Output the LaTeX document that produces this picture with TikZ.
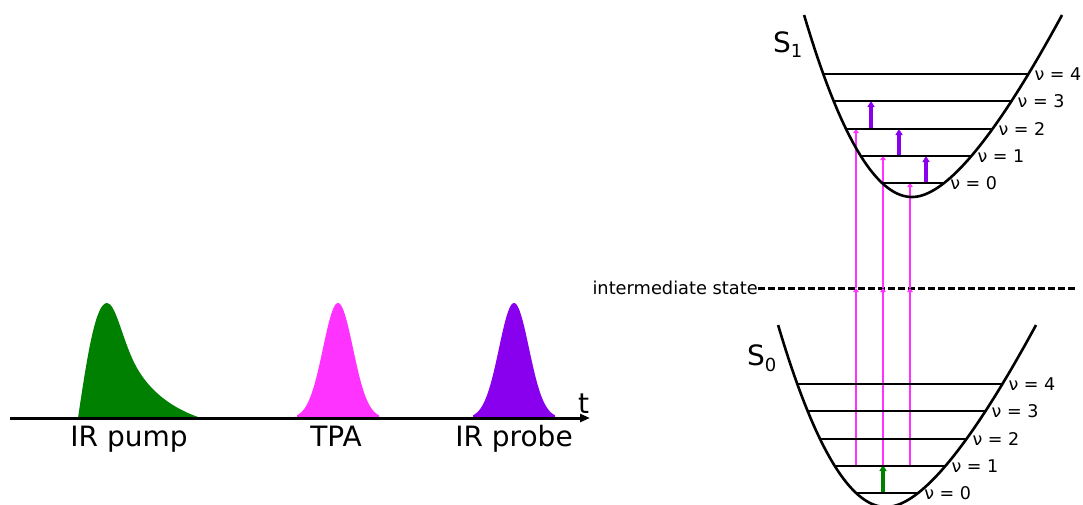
\documentclass[tikz,border=0pt]{standalone}
\usepackage{fontspec}
\setmainfont{DejaVu Sans}
\usetikzlibrary{arrows.meta}
\definecolor{pumpgreen}{RGB}{0,128,0}
\definecolor{tpapink}{RGB}{255,51,255}
\definecolor{probepurple}{RGB}{136,0,238}
\begin{document}
\begin{tikzpicture}[x=1pt,y=-1pt,
  levelline/.style={line width=2pt},
  well/.style={line width=2.6pt},
  vlab/.style={anchor=west,inner sep=0pt,xshift=6pt,font=\fontsize{17.5}{20}\selectfont},
  pinkarr/.style={tpapink,line width=2.9pt,-{Triangle[length=4pt,width=5.5pt]}},
  purparr/.style={probepurple,line width=3.2pt,-{Triangle[length=6pt,width=7pt]}},
  greenarr/.style={pumpgreen,line width=3.2pt,-{Triangle[length=6pt,width=7pt]}},
  biglab/.style={font=\fontsize{28}{32}\selectfont,inner sep=0pt}]
\useasboundingbox (0,0) rectangle (1083,504);
\clip (0,0) rectangle (1083,504);

% pulses
\fill[pumpgreen] (78,418) .. controls (88,350) and (96,303) .. (107,303)
  .. controls (115,303) and (121,333) .. (132,358)
  .. controls (142,381) and (162,405) .. (201,418) -- cycle;
\fill[tpapink] (297,418) -- plot[domain=-41:41,samples=80,smooth] ({338+\x},{418-115*exp(-(\x*\x)/450)}) -- (379,418) -- cycle;
\fill[probepurple] (473,418) -- plot[domain=-41:41,samples=80,smooth] ({514+\x},{418-115*exp(-(\x*\x)/450)}) -- (555,418) -- cycle;

% time axis
\coordinate (ax0) at (10,418);
\coordinate (ax1) at (590,418);
\draw[line width=3pt,-{Triangle[length=10pt,width=8pt]}] (ax0) -- (ax1);
\node[biglab,anchor=base west] (tlab) at (578,413) {t};
\node[biglab,anchor=base] (pumplab) at (129,446) {IR pump};
\node[biglab,anchor=base] (tpalab) at (336,446) {TPA};
\node[biglab,anchor=base] (probelab) at (514,446) {IR probe};

% intermediate state
\node[anchor=east,inner sep=0pt,font=\fontsize{17.8}{20}\selectfont] (ilab) at (758,288) {intermediate state};
\coordinate (iend) at (1077,288);
\draw[line width=3pt,dash pattern=on 7pt off 3pt] (ilab.east) -- (iend);

% pink TPA arrows
\foreach \i/\xx/\ye in {1/856/129,2/883/156,3/910/183}{
  \coordinate (p\i s) at (\xx,465);
  \coordinate (p\i m) at (\xx,288);
  \coordinate (p\i e) at (\xx,\ye);
  \draw[pinkarr] (p\i s) -- (p\i m);
  \draw[pinkarr] (p\i m) -- (p\i e);
}
% purple probe arrows
\foreach \i/\xx/\ys/\ye in {1/871/129/101,2/899/156/129,3/926/183/156}{
  \coordinate (q\i s) at (\xx,\ys);
  \coordinate (q\i e) at (\xx,\ye);
  \draw[purparr] (q\i s) -- (q\i e);
}
% green pump arrow
\coordinate (g1s) at (883,492);
\coordinate (g1e) at (883,465);
\draw[greenarr] (g1s) -- (g1e);

% S1 well
\draw[well] plot[domain=-13.49:13.49,samples=81,smooth]
  ({912+8*min(\x,0)+7.6*max(\x,0)+0.261*max(\x,0)*max(\x,0)},{197-\x*\x});
\foreach \v/\yy in {0/183,1/156,2/129,3/101,4/74}{
  \pgfmathsetmacro\s{sqrt(197-\yy)}
  \pgfmathsetmacro\xl{912-8*\s}
  \pgfmathsetmacro\xr{912+7.6*\s+0.261*\s*\s}
  \draw[levelline] (\xl,\yy) coordinate (ua\v) -- (\xr,\yy) coordinate (ub\v);
  \node[vlab] (ulab\v) at (ub\v) {ν = \v};
}
\node[biglab,anchor=base west] (S1lab) at (773,52) {S\raisebox{-5pt}{\fontsize{18}{20}\selectfont 1}};

% S0 well
\begin{scope}[shift={(-26,310)}]
\draw[well] plot[domain=-13.49:13.49,samples=81,smooth]
  ({912+8*min(\x,0)+7.6*max(\x,0)+0.261*max(\x,0)*max(\x,0)},{197-\x*\x});
\foreach \v/\yy in {0/183,1/156,2/129,3/101,4/74}{
  \pgfmathsetmacro\s{sqrt(197-\yy)}
  \pgfmathsetmacro\xl{912-8*\s}
  \pgfmathsetmacro\xr{912+7.6*\s+0.261*\s*\s}
  \draw[levelline] (\xl,\yy) coordinate (la\v) -- (\xr,\yy) coordinate (lb\v);
  \node[vlab] (llab\v) at (lb\v) {ν = \v};
}
\node[biglab,anchor=base west] (S0lab) at (773,55) {S\raisebox{-6pt}{\fontsize{18}{20}\selectfont 0}};
\end{scope}
\end{tikzpicture}
\end{document}
